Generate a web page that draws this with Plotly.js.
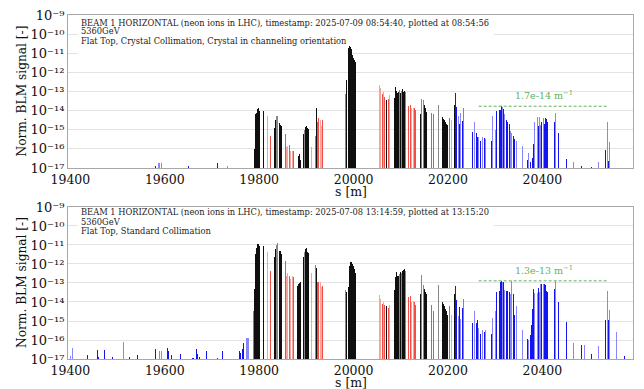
<!DOCTYPE html>
<html><head><meta charset="utf-8">
<script src="https://cdn.plot.ly/plotly-3.0.1.min.js"></script>
<style>html,body{margin:0;padding:0;background:#fff}#chart{width:644px;height:389px}</style>
</head><body><div id="chart"></div>
<script>
// BLM longitudinal positions [m]
const s = [19400.5,19404.5,19435.5,19457,19459,19473,19488.5,19512,19526,19541.5,
19580.5,19587,19589.5,19592.5,19606,19608,19614.5,19633,19650,19658,
19661,19667,19669,19673,19688,19698,19711,19722,19733,19758,
19761,19764.5,19767,19770,19772.5,19775.5,19778,19787.5,
19790,19792,19794,19796,19798,19800,19809,
19818,19824,
19833,19835,19837,19839,19843.5,19845.6,19847.7,
19855.5,19858.5,19861,19864,19867,19870,19872.5,
19881,19883,19885,19887,
19893.5,19895.7,19898,19900,19902,19904.2,
19911,19914,19919,19921,19924,19926.5,19929,19931.5,19934,
19983.5,19985.5,19988.5,19991,19993,19995.5,19997.5,19999.5,20001.5,20004,
20054.5,20057.5,20060.5,20063.5,20066.5,20070,20073,20076,
20086,20088.1,20090.2,20092.3,20094.4,20096.5,20098.6,20100.7,20102.8,20104.9,20107,20109.1,
20117,20120,20123,20126,20129,20132,
20141,20143,20145,20147.5,20150,20152.5,20155,
20165,20168.5,20179.7,
20188.5,20190.5,20192.5,20194.5,20196.5,20198.5,
20203.5,20206.5,
20213,20215.2,20218.5,20221.5,20224.3,20227.2,20230,20232.5,20244.5,
20252,20256.5,20259.5,20262.5,20265,20268,20273.5,20276.5,20279,
20292,20294.5,20297.5,20300.3,20303,20306,20308.5,
20310.5,20313,20315.5,20318,20320.5,20323.5,20326.5,20329.5,20332.5,20335.5,20338.5,20341.5,20344.5,
20357.5,20369,20371.5,20374,20376.5,20379,20381.5,20384,20386.5,20389,20391.5,20394,20396.5,20399,20401.5,20404,20406.5,20409,20411.5,
20426,20428.5,20431,20433.5,20451,20466.5,20482,20489,20504,20519.5,20534.5,20537,20540,20543,20558,20573];

// BLM region: coll (collimation), warm, cold
const blmRegion = [
'cold','cold','cold','cold','cold','cold','cold','cold','cold','cold',
'cold','cold','cold','cold','cold','cold','cold','cold','cold','cold',
'cold','cold','cold','cold','cold','cold','cold','cold','cold','cold',
'cold','cold','cold','cold','cold','cold','cold','warm',
'coll','coll','coll','coll','coll','coll','coll',
'warm','warm',
'coll','coll','coll','coll','coll','coll','coll',
'warm','warm','warm','warm','warm','warm','warm',
'coll','coll','coll','coll',
'coll','coll','coll','coll','coll','coll',
'warm','warm','coll','coll','warm','warm','warm','warm','warm',
'coll','coll','coll','coll','coll','coll','coll','coll','coll','coll',
'warm','warm','warm','warm','warm','coll','warm','warm',
'coll','coll','coll','coll','coll','coll','coll','coll','coll','coll','coll','coll',
'warm','warm','warm','warm','warm','warm',
'coll','coll','coll','coll','coll','coll','coll',
'warm','warm','coll',
'coll','coll','coll','coll','coll','coll',
'warm','warm',
'coll','cold','cold','cold','cold','cold','cold','coll','coll',
'cold','cold','cold','cold','cold','cold','cold','cold','cold',
'cold','cold','cold','cold','cold','cold','cold',
'cold','cold','cold','cold','cold','cold','cold','cold','cold','cold','cold','cold','cold',
'cold','cold','cold','cold','cold','cold','cold','cold','cold','cold','cold','cold','cold','cold','cold','cold','cold','cold','cold',
'cold','cold','cold','cold','cold','cold','cold','cold','cold','cold','cold','cold','cold','cold','cold','cold'];

// detector family (IC / LIC)
const detector = [
'LIC','LIC','IC','IC','IC','IC','IC','LIC','IC','IC',
'IC','LIC','LIC','LIC','IC','IC','IC','IC','IC','IC',
'IC','IC','IC','IC','IC','IC','IC','IC','LIC','IC',
'IC','IC','IC','IC','LIC','LIC','LIC','IC',
'IC','IC','IC','IC','IC','IC','IC',
'LIC','IC',
'IC','IC','LIC','LIC','IC','IC','IC',
'IC','LIC','LIC','IC','LIC','LIC','IC',
'IC','IC','IC','IC',
'IC','LIC','IC','IC','IC','IC',
'LIC','IC','LIC','IC','IC','IC','LIC','LIC','IC',
'LIC','IC','IC','IC','IC','IC','IC','IC','IC','IC',
'LIC','LIC','IC','LIC','IC','IC','IC','LIC',
'IC','IC','IC','IC','IC','LIC','IC','LIC','IC','IC','IC','LIC',
'IC','IC','LIC','LIC','IC','IC',
'IC','LIC','LIC','LIC','IC','IC','IC',
'IC','IC','LIC',
'IC','IC','IC','IC','IC','IC',
'IC','LIC',
'IC','IC','IC','LIC','IC','LIC','IC','LIC','IC',
'IC','LIC','IC','IC','LIC','IC','LIC','IC','LIC',
'IC','LIC','IC','LIC','IC','LIC','IC',
'IC','IC','LIC','IC','LIC','IC','IC','IC','LIC','LIC','IC','IC','LIC',
'LIC','IC','LIC','IC','IC','IC','IC','LIC','IC','LIC','IC','LIC','LIC','IC','LIC','IC','IC','IC','IC',
'IC','LIC','IC','IC','IC','LIC','IC','LIC','IC','LIC','IC','LIC','IC','LIC','LIC','IC'];

// Normalised BLM signal, 2025-07-09 (crystal collimation, channeling)
const lossCrystal = [
null,null,null,null,null,null,null,null,null,null,
1.26e-17,1.8e-17,1.8e-17,1.8e-17,null,null,null,null,1.26e-17,null,
null,null,null,null,null,null,1.9e-17,null,1.26e-17,null,
null,null,null,null,null,null,null,null,
1.0e-16,6.9e-15,7.9e-15,1.26e-14,1.35e-14,9.3e-15,9.3e-15,
5.0e-15,5.0e-16,
1.26e-15,3.4e-15,5.0e-15,5.0e-15,2.2e-15,1.8e-15,1.5e-15,
6.3e-16,1.26e-16,1.4e-16,1.6e-16,7.9e-17,7.9e-17,7.9e-17,
null,4.0e-17,5.6e-17,2.5e-17,
6.3e-16,1.0e-15,1.4e-15,1.6e-15,1.26e-15,1.12e-15,
1.26e-16,1.4e-16,5.0e-16,1.35e-14,2.5e-15,4.0e-15,3.2e-15,1.6e-15,3.2e-15,
7.6e-14,4.0e-13,1.8e-11,2.5e-11,2.2e-11,1.6e-11,7.9e-12,5.5e-12,4.2e-12,3.5e-12,
2.1e-13,1.5e-13,7.6e-14,1.0e-13,5.0e-14,3.4e-14,4.1e-14,6.3e-14,
4.6e-14,1.7e-13,1.1e-13,8.3e-14,8.9e-14,1.15e-13,7.9e-14,1.1e-13,1.4e-13,8.9e-14,1.1e-13,9.1e-14,
1.7e-14,1.9e-14,1.4e-14,1.4e-14,1.3e-14,1.12e-14,
6.3e-15,4.1e-14,5.2e-14,3.5e-14,1.9e-14,1.4e-14,8.1e-15,
7.6e-15,6.3e-15,1.9e-14,
4.7e-15,3.8e-15,3.2e-15,2.5e-15,2.1e-15,1.7e-15,
4.2e-15,3.4e-15,
1.9e-14,7.9e-14,1.6e-14,5.0e-15,2.1e-15,7.1e-15,2.8e-15,1.45e-14,1.9e-15,
7.4e-16,2.5e-15,7.1e-16,4.0e-16,4.0e-16,2.5e-16,4.0e-16,3.5e-16,3.2e-16,
2.5e-16,5.5e-15,1.12e-15,1.0e-15,9.3e-15,7.9e-15,1.1e-14,
1.1e-14,1.7e-14,1.6e-14,1.2e-14,6.3e-15,3.2e-15,2.4e-15,2.0e-15,8.9e-16,6.8e-16,5.0e-16,3.2e-16,2.5e-16,
1.5e-16,2.6e-17,6.3e-17,2.0e-17,null,3.2e-17,1.8e-16,2.4e-15,1.7e-15,4.7e-15,1.6e-15,4.5e-15,1.8e-15,2.4e-15,4.2e-15,2.0e-15,4.2e-15,3.7e-15,2.5e-15,
2.5e-15,7.4e-15,1.0e-15,6.8e-16,2.8e-17,2.1e-17,1.26e-17,null,1.12e-17,2.0e-17,8.3e-17,2.4e-15,2.2e-17,2.2e-16,null,null];

// Normalised BLM signal, 2025-07-08 (standard collimation)
const lossStandard = [
1.5e-17,4.0e-17,1.7e-17,3.0e-17,1.26e-17,3.0e-17,1.26e-17,7.4e-17,1.26e-17,1.6e-17,
3.2e-17,null,2.8e-17,2.5e-17,4.0e-17,2.6e-17,1.7e-17,1.8e-17,null,1.1e-17,
1.1e-17,3.3e-17,1.9e-17,1.26e-17,2.5e-17,1.7e-17,1.17e-17,2.6e-17,null,2.6e-17,
2.1e-17,3.5e-17,7.1e-17,6.3e-17,1.26e-16,1.35e-16,1.35e-16,3.3e-15,
5.0e-14,3.5e-12,7.1e-12,1.07e-11,1.17e-11,8.9e-12,8.9e-12,
4.3e-12,4.5e-13,
2.2e-12,5.9e-12,1.0e-11,1.23e-11,5.0e-12,4.7e-12,3.5e-12,
1.4e-12,2.3e-13,3.5e-13,2.2e-13,1.7e-13,2.2e-13,2.0e-13,
7.2e-14,8.9e-14,1.05e-13,1.17e-13,
2.3e-12,4.5e-12,5.9e-12,6.6e-12,4.5e-12,4.0e-12,
3.2e-13,2.8e-13,8.9e-13,6.3e-13,1.07e-13,1.07e-13,1.07e-13,6.3e-14,7.1e-14,
4.5e-14,3.5e-14,6.3e-14,7.9e-13,1.2e-12,1.3e-12,1.0e-12,7.6e-13,5.6e-13,3.5e-13,
2.2e-14,1.5e-14,7.9e-15,1.0e-14,7.1e-15,6.3e-15,5.0e-15,7.1e-15,
4.2e-14,2.0e-13,3.7e-13,2.2e-13,2.2e-13,3.0e-13,3.7e-13,3.3e-13,4.2e-13,5.0e-13,5.4e-13,4.2e-13,
1.8e-14,2.0e-14,1.0e-14,1.12e-14,1.0e-14,6.8e-15,
2.8e-14,2.5e-13,2.5e-13,7.4e-14,5.0e-14,3.4e-14,2.8e-14,
6.8e-15,3.5e-15,7.4e-14,
1.05e-14,7.9e-15,6.3e-15,4.5e-15,3.5e-15,2.0e-15,
5.9e-15,2.0e-15,
2.7e-14,6.6e-14,1.26e-14,1.8e-15,5.4e-15,1.26e-15,5.0e-15,1.4e-14,2.5e-15,
7.9e-16,3.2e-15,7.9e-16,1.12e-15,4.5e-16,2.0e-16,3.2e-16,2.5e-16,3.5e-16,
2.0e-16,1.4e-15,2.5e-15,3.5e-15,3.4e-14,4.0e-15,4.0e-14,
1.17e-13,1.3e-13,1.12e-13,1.17e-13,4.3e-14,4.0e-14,3.8e-14,3.5e-14,2.8e-14,1.26e-13,2.5e-14,2.0e-15,6.3e-15,
3.5e-16,1.12e-16,1.0e-16,1.8e-16,6.3e-16,4.1e-15,4.7e-14,2.9e-14,7.9e-14,2.9e-14,5.2e-14,3.2e-14,8.9e-14,8.9e-14,8.9e-14,8.9e-14,7.9e-14,4.0e-14,3.2e-14,
4.7e-14,1.3e-13,1.26e-14,1.0e-14,9.1e-16,6.6e-17,5.5e-17,5.5e-17,1.8e-17,4.8e-17,1.12e-15,4.0e-14,1.12e-15,3.8e-15,2.5e-16,1.5e-17];

// s-range of the cold region used for the reference level
const coldRefRange = [20265, 20540];

// y tick decades
const yTickExponents = [-17,-16,-15,-14,-13,-12,-11,-10,-9];

const titles = [
 ['BEAM 1 HORIZONTAL (neon ions in LHC), timestamp: 2025-07-09 08:54:40, plotted at 08:54:56','5360GeV','Flat Top, Crystal Collimation, Crystal in channeling orientation'],
 ['BEAM 1 HORIZONTAL (neon ions in LHC), timestamp: 2025-07-08 13:14:59, plotted at 13:15:20','5360GeV','Flat Top, Standard Collimation']
];
const xTitle = 's [m]';
const yTitle = 'Norm. BLM signal [-]';

const SUP = {'-':'⁻','0':'⁰','1':'¹','2':'²','3':'³','4':'⁴','5':'⁵','6':'⁶','7':'⁷','8':'⁸','9':'⁹'};
const yTickVals = yTickExponents.map(e => Math.pow(10, e));
const yTickText = yTickExponents.map(e => '10' + String(e).split('').map(c => SUP[c]).join(''));

const palette = {
  coll: {IC:'rgb(15,15,15)', LIC:'rgb(135,135,135)'},
  warm: {IC:'rgb(238,80,72)', LIC:'rgb(246,165,158)'},
  cold: {IC:'rgb(20,20,240)', LIC:'rgb(135,135,250)'}
};
const colors = s.map((_, i) => palette[blmRegion[i]][detector[i]]);
const GREEN = 'rgb(95,178,95)';
const FONT = 'DejaVu Serif';

function refLevel(vals){
  let m = 0;
  s.forEach((x,i)=>{ if (x>=coldRefRange[0] && x<=coldRefRange[1] && blmRegion[i]==='cold' && vals[i]!=null && vals[i]>m) m = vals[i]; });
  return m;
}

const series = [lossCrystal, lossStandard];
const traces = [];
const annotations = [];
const shapes = [];
const axIds = [['x','y'],['x2','y2']];
const lineY = [[0.9497,0.8954,0.832],[0.9651,0.9033,0.8421]];
const xTitleY = [0.5077, 0.0168];
series.forEach((vals, k) => {
  const [xa, ya] = axIds[k];
  traces.push({type:'bar', x:s, y:vals, base:1e-20, width:2.0,
    marker:{color:colors, line:{width:0}}, xaxis:xa, yaxis:ya, showlegend:false});
  const lvl = refLevel(vals);
  traces.push({type:'scatter', mode:'lines', x:coldRefRange, y:[lvl,lvl], xaxis:xa, yaxis:ya,
    line:{color:GREEN, width:1, dash:'3px,2px'}, showlegend:false});
  annotations.push({xref:xa, yref:ya, x:(coldRefRange[0]+coldRefRange[1])/2, y:Math.log10(lvl),
    yshift:11, text: lvl.toExponential(1) + ' m<sup>−1</sup>', showarrow:false,
    font:{family:FONT, size:9.5, color:GREEN}, xanchor:'center', yanchor:'middle'});
  titles[k].forEach((t, j) => {
    annotations.push({xref:xa+' domain', yref:ya+' domain', x:0.0212, y:lineY[k][j], text:t, showarrow:false,
      xanchor:'left', yanchor:'middle', borderpad:0, font:{family:FONT, size:8.3, color:'#222'}});
  });
  // axis titles
  annotations.push({xref:xa+' domain', yref:'paper', x:0.5, y:xTitleY[k], text:xTitle, showarrow:false,
    xanchor:'center', yanchor:'middle', font:{family:FONT, size:12.5, color:'#111'}});
  annotations.push({xref:'paper', yref:ya+' domain', x:-0.0814, y:0.5, text:yTitle, showarrow:false, textangle:-90,
    xanchor:'center', yanchor:'middle', font:{family:FONT, size:12.2, color:'#111'}});
  shapes.push({type:'rect', layer:'above', xref:xa+' domain', yref:ya+' domain', x0:0.0177, x1:0.754, y0:(k===0?0.866:0.8586), y1:0.997,
    fillcolor:'white', line:{width:0}});
  if (k===0) shapes.push({type:'rect', layer:'above', xref:xa+' domain', yref:ya+' domain', x0:0.0177, x1:0.4947, y0:0.742, y1:0.866,
    fillcolor:'white', line:{width:0}});
});

const xBase = {range:[19395,20592], dtick:200, tick0:0, tickformat:'d', showgrid:false, zeroline:false, showline:true, mirror:true,
  linecolor:'#a8a8a8', linewidth:1, ticks:'', tickfont:{family:FONT, size:12.5, color:'#111'}};
const yBase = {type:'log', range:[-17,-9], tickmode:'array', tickvals:yTickVals, ticktext:yTickText,
  showgrid:true, gridcolor:'#e3e3e3', gridwidth:1,
  zeroline:false, showline:true, mirror:true, linecolor:'#a8a8a8', linewidth:1, ticks:'',
  tickfont:{family:FONT, size:13, color:'#111'}};

const layout = {
  width:644, height:389, margin:{l:68, r:11, t:0, b:0}, paper_bgcolor:'white', plot_bgcolor:'white',
  bargap:0, showlegend:false, font:{family:FONT},
  xaxis: Object.assign({}, xBase, {anchor:'y'}),
  yaxis: Object.assign({}, yBase, {domain:[0.5681,0.9614], anchor:'x'}),
  xaxis2: Object.assign({}, xBase, {anchor:'y2'}),
  yaxis2: Object.assign({}, yBase, {domain:[0.0771,0.4679], anchor:'x2'}),
  annotations, shapes
};
Plotly.newPlot('chart', traces, layout, {displayModeBar:false, staticPlot:true});
</script></body></html>
